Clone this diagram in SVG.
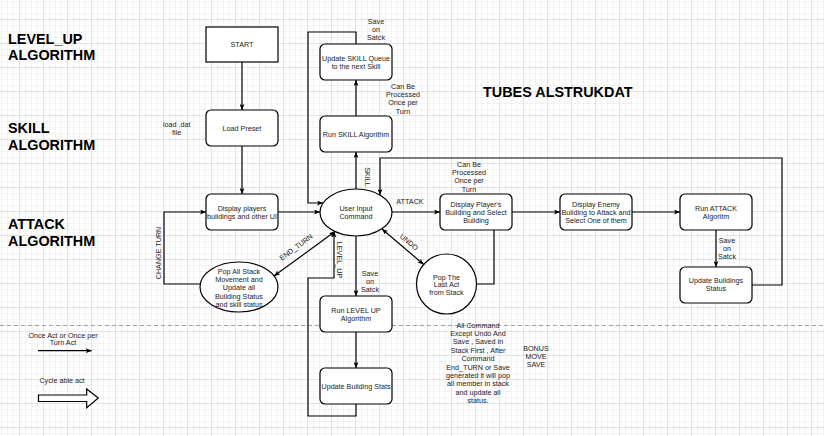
<svg xmlns="http://www.w3.org/2000/svg" width="824" height="436" viewBox="0 0 824 436">
<defs>
<pattern id="grid" width="24" height="24" patternUnits="userSpaceOnUse" x="19" y="19">
<path d="M6.5 0V24M12.5 0V24M18.5 0V24M0 6.5H24M0 12.5H24M0 18.5H24" stroke="#f3f3f3" stroke-width="1" fill="none"/>
<path d="M0.5 0V24M0 0.5H24" stroke="#e3e3e3" stroke-width="1" fill="none"/>
</pattern>
<marker id="arr" markerUnits="userSpaceOnUse" markerWidth="6" markerHeight="5" viewBox="0 0 6 5" refX="6" refY="2.5" orient="auto-start-reverse">
<path d="M0,0 L6,2.5 L0,5 L1.5,2.5 Z" fill="#000"/>
</marker>
<style>
.box{fill:#fff;stroke:#000;stroke-width:1.2}
.c{fill:none;stroke:#000;stroke-width:1.2}
.a{marker-end:url(#arr)}
.b{marker-start:url(#arr);marker-end:url(#arr)}
text{font-family:"Liberation Sans",Arial,Helvetica,sans-serif}
.t{font-size:7.2px;fill:#222;text-anchor:middle}
.h{font-size:14.4px;font-weight:bold;fill:#000}
</style>
</defs>
<rect width="824" height="436" fill="#fff"/>
<rect width="824" height="436" fill="url(#grid)"/>
<path d="M0 325.5H824" stroke="#a0a0a0" stroke-width="1" stroke-dasharray="4 3" fill="none"/>

<g id="headings">
<text class="h" x="8" y="44">LEVEL_UP</text>
<text class="h" x="8" y="60">ALGORITHM</text>
<text class="h" x="8" y="133">SKILL</text>
<text class="h" x="8" y="150">ALGORITHM</text>
<text class="h" x="8" y="229">ATTACK</text>
<text class="h" x="8" y="246">ALGORITHM</text>
<text class="h" x="483" y="97">TUBES ALSTRUKDAT</text>
</g>

<g id="connectors">
<path class="c a" d="M242 62V110"/>
<path class="c a" d="M242 146V194"/>
<path class="c a" d="M278 212H320"/>
<path class="c a" d="M200.3 284H164V212H206"/>
<path class="c b" d="M274 276L335 231.6"/>
<path class="c a" d="M356 404V416H308V278H334V231.5"/>
<path class="c a" d="M356 236V296"/>
<path class="c a" d="M356 332V368"/>
<path class="c a" d="M356 189V152"/>
<path class="c a" d="M356 116V80"/>
<path class="c a" d="M356 44V32H308V203H323"/>
<path class="c a" d="M392 212H440"/>
<path class="c a" d="M512 212H560"/>
<path class="c a" d="M632 212H680"/>
<path class="c a" d="M716 230V267"/>
<path class="c a" d="M752 285H782V158H380V195"/>
<path class="c" d="M494 230V284H476.5"/>
<path class="c b" d="M382 229L423.7 264.5"/>
</g>

<g id="edge-labels">
<text class="t" transform="translate(368,177) rotate(90)" y="2.6">SKILL</text>
<text class="t" transform="translate(340,260) rotate(90)" y="2.6">LEVEL_UP</text>
<text class="t" transform="translate(158,253) rotate(-90)" y="2.6">CHANGE TURN</text>
<text class="t" transform="translate(296,247) rotate(-36.5)" y="2.6">END_TURN</text>
<text class="t" transform="translate(409,242) rotate(40)" y="2.6">UNDO</text>
<text class="t" x="410" y="203.6">ATTACK</text>
<text class="t" x="376" y="24.3">Save</text>
<text class="t" x="376" y="32">on</text>
<text class="t" x="376" y="40">Satck</text>
<text class="t" x="403" y="89.3">Can Be</text>
<text class="t" x="403" y="97.3">Processed</text>
<text class="t" x="403" y="105.3">Once per</text>
<text class="t" x="403" y="113.6">Turn</text>
<text class="t" x="469" y="167.3">Can Be</text>
<text class="t" x="469" y="175.3">Processed</text>
<text class="t" x="469" y="183.3">Once per</text>
<text class="t" x="469" y="191.6">Turn</text>
<text class="t" x="370" y="276">Save</text>
<text class="t" x="370" y="284.3">on</text>
<text class="t" x="370" y="292.3">Satck</text>
<text class="t" x="727" y="243">Save</text>
<text class="t" x="727" y="251.3">on</text>
<text class="t" x="727" y="259.3">Satck</text>
<text class="t" x="176.7" y="127">load .dat</text>
<text class="t" x="176.7" y="134.7">file</text>
</g>

<g id="start">
<rect class="box" x="206" y="27" width="72" height="35"/>
<text class="t" x="242" y="46.6">START</text>
</g>
<g id="load-preset">
<rect class="box" x="206" y="110" width="72" height="36" rx="5"/>
<text class="t" x="242" y="130.6">Load Preset</text>
</g>
<g id="display-players">
<rect class="box" x="206" y="194" width="72" height="36" rx="5"/>
<text class="t" x="242" y="211.3">Display players</text>
<text class="t" x="242" y="219.3">buildings and other UI</text>
</g>
<g id="user-input">
<ellipse class="box" cx="356" cy="212.5" rx="36" ry="23.5"/>
<text class="t" x="356" y="211.3">User Input</text>
<text class="t" x="356" y="219.3">Command</text>
</g>
<g id="update-skill">
<rect class="box" x="320" y="44" width="72" height="36" rx="5"/>
<text class="t" x="356" y="61.3">Update SKILL Queue</text>
<text class="t" x="356" y="69.3">to the next Skill</text>
</g>
<g id="run-skill">
<rect class="box" x="320" y="116" width="72" height="36" rx="5"/>
<text class="t" x="356" y="137.3">Run SKILL Algorithm</text>
</g>
<g id="display-player-building">
<rect class="box" x="440" y="194" width="72" height="36" rx="5"/>
<text class="t" x="476" y="207">Display Player's</text>
<text class="t" x="476" y="215">Building and Select</text>
<text class="t" x="476" y="223.3">Building</text>
</g>
<g id="display-enemy">
<rect class="box" x="560" y="194" width="72" height="36" rx="5"/>
<text class="t" x="596" y="207.3">Display Enemy</text>
<text class="t" x="596" y="215">Building to Attack and</text>
<text class="t" x="596" y="223.3">Select One of them</text>
</g>
<g id="run-attack">
<rect class="box" x="680" y="194" width="72" height="36" rx="5"/>
<text class="t" x="716" y="211.3">Run ATTACK</text>
<text class="t" x="716" y="219.3">Algoritm</text>
</g>
<g id="update-buildings-status">
<rect class="box" x="680" y="267" width="72" height="36" rx="5"/>
<text class="t" x="716" y="283">Update Buildings</text>
<text class="t" x="716" y="291">Status</text>
</g>
<g id="pop-last-act">
<circle class="box" cx="446.5" cy="284" r="30"/>
<text class="t" x="446.5" y="279.5">Pop The</text>
<text class="t" x="446.5" y="287">Last Act</text>
<text class="t" x="446.5" y="295">from Stack</text>
</g>
<g id="pop-all-stack">
<ellipse class="box" cx="239" cy="287" rx="39" ry="25"/>
<text class="t" x="239" y="274.3">Pop All Stack</text>
<text class="t" x="239" y="282.3">Movement and</text>
<text class="t" x="239" y="290.3">Update all</text>
<text class="t" x="239" y="299.3">Building Status</text>
<text class="t" x="239" y="306.9">and skill status</text>
</g>
<g id="run-level-up">
<rect class="box" x="320" y="296" width="72" height="36" rx="5"/>
<text class="t" x="356" y="313.3">Run LEVEL UP</text>
<text class="t" x="356" y="321.3">Algorithm</text>
</g>
<g id="update-building-stats">
<rect class="box" x="320" y="368" width="72" height="36" rx="5"/>
<text class="t" x="356" y="389.3">Update Building Stats</text>
</g>

<g id="notes">
<text class="t" x="478" y="328.3">All Command</text>
<text class="t" x="478" y="335.9">Except Undo And</text>
<text class="t" x="478" y="344.3">Save , Saved in</text>
<text class="t" x="478" y="353.3">Stack First , After</text>
<text class="t" x="478" y="361.3">Command</text>
<text class="t" x="478" y="369.9">End_TURN or Save</text>
<text class="t" x="478" y="377.9">generated it will pop</text>
<text class="t" x="478" y="385.9">all member in stack</text>
<text class="t" x="478" y="394.6">and update all</text>
<text class="t" x="478" y="403.3">status.</text>
<text class="t" x="536" y="351.3">BONUS</text>
<text class="t" x="536" y="359.3">MOVE</text>
<text class="t" x="536" y="367.3">SAVE</text>
</g>

<g id="legend">
<text class="t" x="63" y="337.6">Once Act or Once per</text>
<text class="t" x="63" y="345.3">Turn Act</text>
<path class="c a" d="M38 350.7H91.7"/>
<text class="t" x="62" y="383.3">Cycle able act</text>
<path d="M38.5 395H86.7V389L98.3 398L86.7 407.7V401.5H38.5Z" fill="#fff" stroke="#000" stroke-width="1.2"/>
</g>
</svg>
